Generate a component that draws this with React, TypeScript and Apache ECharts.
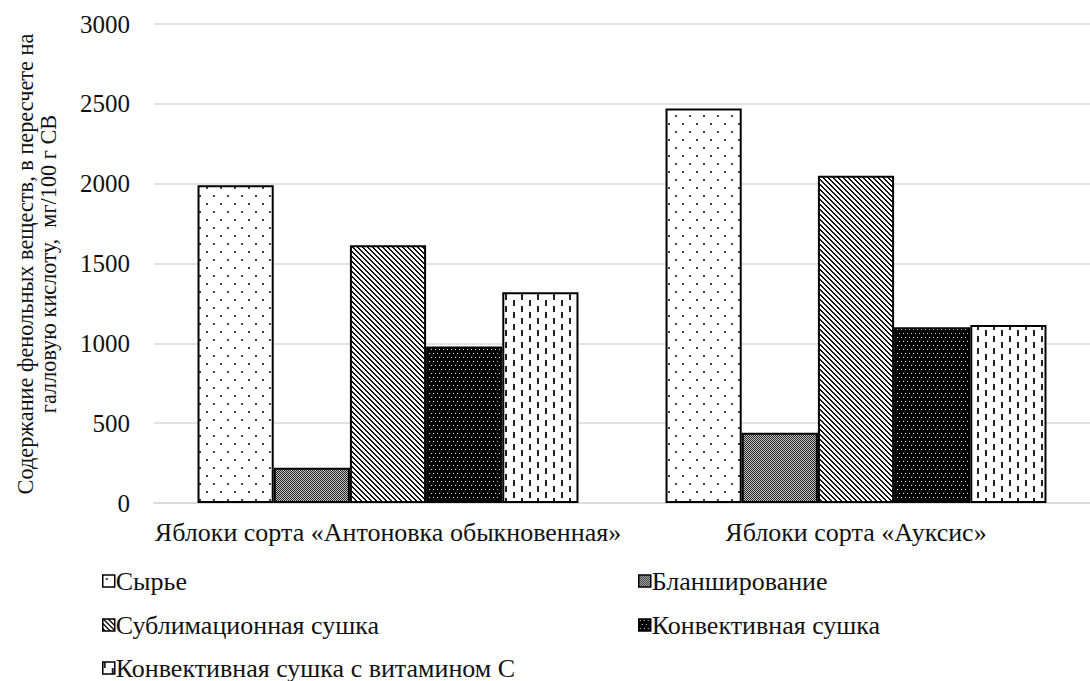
import React, { useEffect, useRef } from "react";
import * as echarts from "echarts";

const categories = [
  "Яблоки сорта «Антоновка обыкновенная»",
  "Яблоки сорта «Ауксис»",
];
const seriesNames = [
  "Сырье",
  "Бланширование",
  "Сублимационная сушка",
  "Конвективная сушка",
  "Конвективная сушка с витамином С",
];
const rawValues = [1990, 2470];
const blanchValues = [220, 440];
const sublimValues = [1615, 2050];
const convValues = [980, 1100];
const vitCValues = [1320, 1115];
const yTicks = { min: 0, max: 3000, interval: 500 };

const FONT = "Liberation Serif";

function makeTile(w: number, h: number, draw: (ctx: CanvasRenderingContext2D) => void) {
  const c = document.createElement("canvas");
  c.width = w;
  c.height = h;
  const ctx = c.getContext("2d")!;
  draw(ctx);
  return c;
}

function patterns() {
  const raw = makeTile(14, 16, (ctx) => {
    ctx.fillStyle = "#fff";
    ctx.fillRect(0, 0, 14, 16);
    ctx.fillStyle = "#444";
    ctx.fillRect(3, 3, 2, 2);
    ctx.fillRect(10, 11, 2, 2);
  });
  const blanch = makeTile(4, 4, (ctx) => {
    ctx.fillStyle = "#c8c8c8";
    ctx.fillRect(0, 0, 4, 4);
    ctx.fillStyle = "#222";
    for (let x = 0; x < 4; x++)
      for (let y = 0; y < 4; y++) if ((x + y) % 2 === 0) ctx.fillRect(x, y, 1, 1);
  });
  const sublim = makeTile(5, 5, (ctx) => {
    ctx.fillStyle = "#fff";
    ctx.fillRect(0, 0, 5, 5);
    ctx.fillStyle = "#111";
    for (let i = 0; i < 5; i++) {
      ctx.fillRect(i, i, 1, 1);
      ctx.fillRect((i + 1) % 5, i, 1, 1);
    }
  });
  const conv = makeTile(8, 8, (ctx) => {
    ctx.fillStyle = "#000";
    ctx.fillRect(0, 0, 8, 8);
    ctx.fillStyle = "#ddd";
    ctx.fillRect(1, 1, 1, 1);
    ctx.fillRect(5, 1, 1, 1);
    ctx.fillRect(3, 5, 1, 1);
    ctx.fillRect(7, 5, 1, 1);
  });
  const vit = makeTile(16, 12, (ctx) => {
    ctx.fillStyle = "#fff";
    ctx.fillRect(0, 0, 16, 12);
    ctx.fillStyle = "#222";
    ctx.fillRect(1, 0, 2, 6);
    ctx.fillRect(9, 6, 2, 6);
  });
  return [raw, blanch, sublim, conv, vit].map((img) => ({
    image: img,
    repeat: "repeat",
  }));
}

export default function App() {
  const ref = useRef<HTMLDivElement>(null);
  useEffect(() => {
    if (!ref.current) return;
    const chart = echarts.init(ref.current, undefined, { renderer: "svg" });
    const pats = patterns();
    const dataSets = [rawValues, blanchValues, sublimValues, convValues, vitCValues];
    const series = seriesNames.map((name, i) => ({
      name,
      type: "bar",
      data: dataSets[i],
      barGap: "0%",
      barCategoryGap: "18.6%",
      itemStyle: {
        color: pats[i] as any,
        borderColor: "#000",
        borderWidth: 2,
      },
    }));
    const legendPos = [
      { left: 102, top: 568 },
      { left: 638, top: 568 },
      { left: 102, top: 612 },
      { left: 638, top: 612 },
      { left: 102, top: 655 },
    ];
    const legend = seriesNames.map((name, i) => ({
      data: [name],
      left: legendPos[i].left,
      top: legendPos[i].top,
      icon: "rect",
      itemWidth: 12,
      itemHeight: 12,
      padding: 0,
      itemStyle: { borderColor: "#000", borderWidth: 1.5 },
      textStyle: { fontFamily: FONT, fontSize: 26, color: "#111", padding: [0, 0, 0, -4] },
    }));
    chart.setOption({
      animation: false,
      backgroundColor: "#fff",
      grid: { left: 154, top: 24, width: 946, height: 479, containLabel: false },
      legend,
      xAxis: {
        type: "category",
        data: categories,
        axisTick: { show: false },
        axisLine: { lineStyle: { color: "#d9d9d9", width: 1.5 } },
        axisLabel: { fontFamily: FONT, fontSize: 26, color: "#111", margin: 16, interval: 0 },
      },
      yAxis: {
        type: "value",
        min: yTicks.min,
        max: yTicks.max,
        interval: yTicks.interval,
        axisLine: { show: false },
        axisTick: { show: false },
        splitLine: { lineStyle: { color: "#d9d9d9", width: 1.5 } },
        axisLabel: {
          fontFamily: FONT,
          fontSize: 25,
          color: "#111",
          margin: 24,
          formatter: (v: number) => String(v),
        },
      },
      graphic: [
        {
          type: "text",
          x: 36.5,
          y: 264,
          rotation: Math.PI / 2,
          style: {
            text: "Содержание фенольных веществ, в пересчете на\nгалловую кислоту,  мг/100 г СВ",
            fontFamily: FONT,
            fontSize: 22.3,
            lineHeight: 23,
            fill: "#111",
            align: "center",
            verticalAlign: "middle",
          },
        },
      ],
      series,
    });
    return () => chart.dispose();
  }, []);
  return (
    <div
      ref={ref}
      style={{ position: "fixed", left: 0, top: 0, width: 1090, height: 681, background: "#fff" }}
    />
  );
}
